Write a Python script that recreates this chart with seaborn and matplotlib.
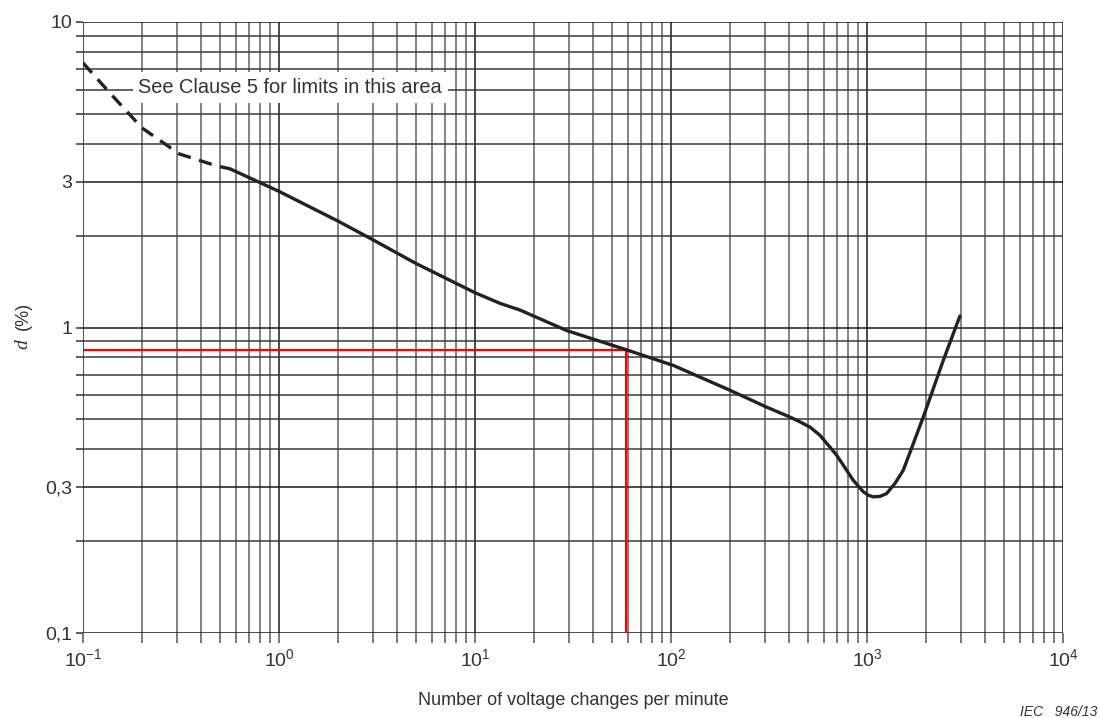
import numpy as np
import pandas as pd
import matplotlib
matplotlib.use("Agg")
import matplotlib.pyplot as plt
import matplotlib.ticker as mticker
import seaborn as sns

# curva limite, tratto tratteggiato (zona "Clause 5")
dash_x = [0.1, 0.137, 0.2, 0.31, 0.48, 0.56]
dash_y = [7.35, 5.86, 4.5, 3.7, 3.38, 3.31]

# curva limite, tratto continuo
solid_x = [0.56, 0.8, 1, 2, 3, 5, 10, 13.4, 17, 29.4, 59, 103, 200, 307, 405,
           455, 512, 575, 647, 700, 787, 851, 957, 1016, 1077, 1164, 1259, 1390,
           1531, 1723, 1936, 2449, 2979]
solid_y = [3.31, 2.98, 2.79, 2.23, 1.94, 1.62, 1.30, 1.20, 1.14, 0.977, 0.846,
           0.751, 0.623, 0.549, 0.509, 0.491, 0.472, 0.444, 0.406, 0.382, 0.341,
           0.316, 0.29, 0.2825, 0.279, 0.280, 0.286, 0.309, 0.341, 0.417, 0.509,
           0.78, 1.09]

# linee rosse di lettura
red_x = [0.1, 59, 59]
red_y = [0.846, 0.846, 0.1]

y_major = [0.1, 0.3, 1, 3, 10]
y_labels = ["0,1", "0,3", "1", "3", "10"]
y_minor = [0.2, 0.4, 0.5, 0.6, 0.7, 0.8, 0.9, 2, 4, 5, 6, 7, 8, 9]
x_major = [0.1, 1, 10, 100, 1000, 10000]
x_labels = [r"$10^{-1}$", r"$10^{0}$", r"$10^{1}$", r"$10^{2}$", r"$10^{3}$", r"$10^{4}$"]

sns.set_style("white")
plt.rcParams['font.family'] = ['Liberation Sans', 'DejaVu Sans']
plt.rcParams['mathtext.fontset'] = 'custom'
plt.rcParams['mathtext.rm'] = 'Liberation Sans'
plt.rcParams['mathtext.it'] = 'Liberation Sans:italic'

fig = plt.figure(figsize=(10.99, 7.18), dpi=100)
ax = fig.add_axes([83 / 1099, 1 - 633 / 718, (1063 - 83) / 1099, (633 - 22) / 718])

df_dash = pd.DataFrame({'x': dash_x, 'y': dash_y})
df_solid = pd.DataFrame({'x': solid_x, 'y': solid_y})
df_red = pd.DataFrame({'x': red_x, 'y': red_y})

sns.lineplot(data=df_red, x='x', y='y', sort=False, estimator=None, ax=ax,
             color='#ff0000', lw=1.6, zorder=3)
sns.lineplot(data=df_dash, x='x', y='y', sort=False, estimator=None, ax=ax,
             color='#222222', lw=2.4, zorder=4)
ax.lines[-1].set_dashes([4, 2.6])
sns.lineplot(data=df_solid, x='x', y='y', sort=False, estimator=None, ax=ax,
             color='#222222', lw=2.4, zorder=4)

ax.set_xscale('log')
ax.set_yscale('log')
ax.set_xlim(0.1, 10000)
ax.set_ylim(0.1, 10)

ax.xaxis.set_major_locator(mticker.FixedLocator(x_major))
ax.xaxis.set_major_formatter(mticker.FixedFormatter(x_labels))
ax.xaxis.set_minor_locator(mticker.LogLocator(base=10, subs=np.arange(2, 10)))
ax.xaxis.set_minor_formatter(mticker.NullFormatter())
ax.yaxis.set_major_locator(mticker.FixedLocator(y_major))
ax.yaxis.set_major_formatter(mticker.FixedFormatter(y_labels))
ax.yaxis.set_minor_locator(mticker.FixedLocator(y_minor))
ax.yaxis.set_minor_formatter(mticker.NullFormatter())

# griglia
ax.xaxis.grid(True, which='major', color='#1a1a1a', lw=1.1)
ax.xaxis.grid(True, which='minor', color='#7a7a7a', lw=1.3)
ax.yaxis.grid(True, which='major', color='#1a1a1a', lw=1.1)
ax.yaxis.grid(True, which='minor', color='#3a3a3a', lw=1.1)
ax.set_axisbelow(True)
for s in ax.spines.values():
    s.set_visible(False)

ax.tick_params(axis='x', which='both', length=7, width=1.1, color='#555555', pad=4,
               labelsize=14, labelcolor='#333333', direction='out', bottom=True)
ax.tick_params(axis='y', which='both', length=5, width=1.1, color='#333333', pad=3,
               labelsize=14, labelcolor='#333333', direction='out', left=True)

ax.set_xlabel("Number of voltage changes per minute", fontsize=13, color='#333333', labelpad=16)
ax.set_ylabel("")

ax.text(1.14, 6.1, "See Clause 5 for limits in this area", fontsize=14.4, color='#333333',
        ha='center', va='center', zorder=5,
        bbox=dict(facecolor='white', edgecolor='none', pad=4))

fig.text(23 / 1099, 1 - 344 / 718, "d", family='Liberation Serif', style='italic',
         fontsize=14, color='#333333', rotation=90, ha='center', va='center')
fig.text(23 / 1099, 1 - 316 / 718, "(%)", fontsize=13, color='#333333',
         rotation=90, ha='center', va='center')
fig.text(1097 / 1099, 1 - 712 / 718, "IEC   946/13", fontsize=10, style='italic',
         color='#333333', ha='right', va='center')

fig.savefig("out.png", dpi=100)
